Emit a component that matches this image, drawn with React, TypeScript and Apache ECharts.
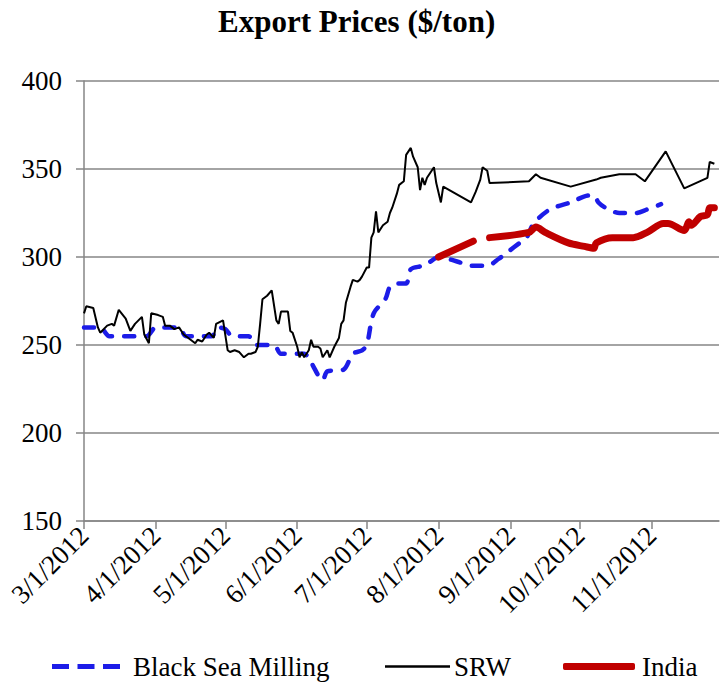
import React, { useEffect, useRef } from "react";
import * as echarts from "echarts";

const titleText = "Export Prices ($/ton)";
const seriesNames = ["Black Sea Milling", "SRW", "India"];

const srwDates = [
  "2012-03-01","2012-03-02","2012-03-05","2012-03-07","2012-03-08","2012-03-11","2012-03-13","2012-03-14","2012-03-16","2012-03-19",
  "2012-03-21","2012-03-23","2012-03-26","2012-03-27","2012-03-29","2012-03-30","2012-04-02","2012-04-04","2012-04-05","2012-04-07",
  "2012-04-09","2012-04-11","2012-04-13","2012-04-16","2012-04-18","2012-04-19","2012-04-21","2012-04-23","2012-04-24","2012-04-26",
  "2012-04-27","2012-04-30","2012-05-02","2012-05-03","2012-05-05","2012-05-07","2012-05-09","2012-05-11","2012-05-12","2012-05-14",
  "2012-05-15","2012-05-16","2012-05-17","2012-05-19","2012-05-21","2012-05-23","2012-05-24","2012-05-25","2012-05-28","2012-05-29",
  "2012-05-30","2012-06-01","2012-06-02","2012-06-03","2012-06-04","2012-06-06","2012-06-07","2012-06-08","2012-06-10","2012-06-11",
  "2012-06-12","2012-06-14","2012-06-15","2012-06-17","2012-06-19","2012-06-20","2012-06-21","2012-06-22","2012-06-24","2012-06-25",
  "2012-06-27","2012-06-28","2012-06-29","2012-07-01","2012-07-02","2012-07-03","2012-07-04","2012-07-05","2012-07-06","2012-07-08",
  "2012-07-10","2012-07-11","2012-07-12","2012-07-14","2012-07-15","2012-07-17","2012-07-18","2012-07-20","2012-07-21","2012-07-23",
  "2012-07-24","2012-07-25","2012-07-26","2012-07-27","2012-07-30","2012-07-31","2012-08-02","2012-08-03","2012-08-15","2012-08-17",
  "2012-08-19","2012-08-20","2012-08-22","2012-08-23","2012-09-09","2012-09-12","2012-09-14","2012-09-27","2012-10-08","2012-10-10",
  "2012-10-18","2012-10-25","2012-10-29","2012-11-07","2012-11-15","2012-11-20","2012-11-25","2012-11-26","2012-11-28"
];
const srwValues = [
  268,272,271,260,257,261,262,261,270,265,
  258,262,266,256,251,268,267,266,261,261,
  259,260,256,253,251,253,252,256,257,254,
  262,264,247,246,247,246,243,245,245,246,
  249,262,276,278,281,264,262,269,269,258,
  257,249,243,246,243,247,253,249,249,248,
  243,247,243,249,254,262,264,274,283,287,
  286,287,289,294,294,311,314,326,314,318,
  320,325,328,336,341,343,358,362,357,351,
  338,345,341,345,351,342,331,340,331,337,
  344,351,349,342,343,347,345,340,344,345,
  347,347,343,360,339,342,345,354,353
];

const bsmDates = [
  "2012-03-01","2012-03-08","2012-03-12","2012-03-28","2012-04-01","2012-04-11","2012-04-14","2012-04-25","2012-04-28","2012-05-01",
  "2012-05-04","2012-05-11","2012-05-14","2012-05-22","2012-05-25","2012-06-04","2012-06-07","2012-06-12","2012-06-14","2012-06-21",
  "2012-06-25","2012-06-29","2012-07-01","2012-07-04","2012-07-09","2012-07-11","2012-07-14","2012-07-18","2012-07-20","2012-07-25",
  "2012-07-28","2012-08-01","2012-08-10","2012-08-15","2012-08-22","2012-08-27","2012-08-31","2012-09-05","2012-09-08","2012-09-11",
  "2012-09-18","2012-09-27","2012-10-05","2012-10-07","2012-10-09","2012-10-12","2012-10-18","2012-10-25","2012-10-30","2012-11-05"
];
const bsmValues = [
  260,260,255,255,260,260,255,255,260,259,
  255,255,250,250,245,245,240,230,235,236,
  245,247,250,268,276,283,285,285,293,295,
  297,300,297,295,295,299,303,308,311,319,
  327,331,335,335,331,328,325,325,327,330
];

const indiaDates = [
  "2012-08-01","2012-08-16","2012-08-20","2012-08-23","2012-09-09","2012-09-12","2012-09-16","2012-09-26","2012-10-03","2012-10-07",
  "2012-10-08","2012-10-15","2012-10-24","2012-10-30","2012-11-06","2012-11-08","2012-11-15","2012-11-17","2012-11-18","2012-11-22",
  "2012-11-25","2012-11-26","2012-11-28"
];
const indiaValues: (number | null)[] = [
  300,309,null,311,314,317,314,308,306,305,
  308,311,311,314,319,319,315,320,318,323,
  324,328,328
];

const yTicks = { min: 150, max: 400, interval: 50 };
const xRange = { min: "2012-03-01", max: "2012-11-30" };

const zip = (d: string[], v: (number | null)[]) => d.map((x, i) => [x, v[i]]);

export default function App() {
  const ref = useRef<HTMLDivElement>(null);
  useEffect(() => {
    if (!ref.current) return;
    const chart = echarts.init(ref.current, null, { renderer: "svg" });
    const serif = "Liberation Serif";
    const legendText = { fontFamily: serif, fontSize: 27, color: "#000" };
    chart.setOption({
      animation: false,
      backgroundColor: "#fff",
      title: {
        text: titleText,
        left: 213,
        top: 1,
        textStyle: { fontFamily: serif, fontSize: 31, fontWeight: "bold", color: "#000" },
      },
      legend: [
        {
          left: 47, top: 648, itemWidth: 68, itemHeight: 5,
          icon: "path://M0,0H17V5H0Z M25.5,0H42.5V5H25.5Z M51,0H68V5H51Z",
          data: [seriesNames[0]],
          textStyle: { ...legendText, padding: [0, 0, 0, 8] },
        },
        {
          left: 380, top: 648, itemWidth: 65, itemHeight: 2.5, icon: "rect",
          data: [seriesNames[1]],
          textStyle: { ...legendText, padding: [0, 0, 0, -1] },
        },
        {
          left: 558, top: 648, itemWidth: 72, itemHeight: 7, icon: "roundRect",
          data: [seriesNames[2]],
          textStyle: { ...legendText, padding: [0, 0, 0, 2] },
        },
      ],
      grid: { left: 84, right: 4, top: 81, bottom: 164, containLabel: false, outerBoundsMode: "none" },
      xAxis: {
        type: "time",
        min: xRange.min,
        max: xRange.max,
        splitNumber: 9,
        axisLine: { lineStyle: { color: "#868686", width: 1.5 } },
        axisTick: { show: true, length: 8, lineStyle: { color: "#868686", width: 1.5 } },
        splitLine: { show: false },
        axisLabel: {
          rotate: 45,
          margin: 10,
          fontFamily: serif,
          fontSize: 27,
          color: "#000",
          formatter: (val: number) => {
            const d = new Date(val);
            return `${d.getMonth() + 1}/${d.getDate()}/${d.getFullYear()}`;
          },
        },
      },
      yAxis: {
        type: "value",
        min: yTicks.min,
        max: yTicks.max,
        interval: yTicks.interval,
        axisLine: { show: true, lineStyle: { color: "#868686", width: 1.5 } },
        axisTick: { show: true, length: 8, lineStyle: { color: "#868686", width: 1.5 } },
        splitLine: { show: true, lineStyle: { color: "#868686", width: 1.5 } },
        axisLabel: { margin: 22, fontFamily: serif, fontSize: 27, color: "#000" },
      },
      series: [
        {
          name: seriesNames[0],
          type: "line",
          data: zip(bsmDates, bsmValues),
          symbol: "none",
          smooth: 0.3,
          z: 2,
          lineStyle: { color: "#1c1ce8", width: 4.5, type: [10, 12], cap: "round" },
          itemStyle: { color: "#1c1ce8" },
        },
        {
          name: seriesNames[1],
          type: "line",
          data: zip(srwDates, srwValues),
          symbol: "none",
          z: 3,
          lineStyle: { color: "#000", width: 2 },
          itemStyle: { color: "#000" },
        },
        {
          name: seriesNames[2],
          type: "line",
          data: zip(indiaDates, indiaValues),
          symbol: "none",
          smooth: 0.3,
          connectNulls: false,
          z: 4,
          lineStyle: { color: "#c00000", width: 7, cap: "round" },
          itemStyle: { color: "#c00000" },
        },
      ],
    });
    return () => chart.dispose();
  }, []);
  return (
    <div
      ref={ref}
      style={{ position: "fixed", left: 0, top: 0, width: 723, height: 685 }}
    />
  );
}
